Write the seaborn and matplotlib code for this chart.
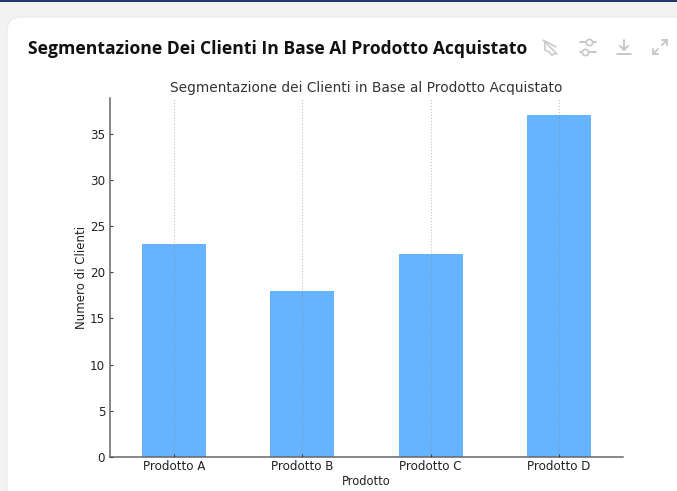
import matplotlib
matplotlib.use("Agg")
import matplotlib.pyplot as plt
import seaborn as sns
import pandas as pd
from matplotlib.patches import FancyBboxPatch, Rectangle
from matplotlib.lines import Line2D

categories = ["Prodotto A", "Prodotto B", "Prodotto C", "Prodotto D"]
customers = [23, 18, 22, 37]
y_ticks = [0, 5, 10, 15, 20, 25, 30, 35]
header = "Segmentazione Dei Clienti In Base Al Prodotto Acquistato"
title = "Segmentazione dei Clienti in Base al Prodotto Acquistato"
xlabel = "Prodotto"
ylabel = "Numero di Clienti"

W, H = 677, 491
sns.set_theme(style="white")
plt.rcParams["font.family"] = ["DejaVu Sans"]
fig = plt.figure(figsize=(W / 100, H / 100), dpi=100, facecolor="#f2f2f2")

def px(x, y):
    return x / W, 1 - y / H

# page chrome
fig.add_artist(Rectangle((0, 1 - 2 / H), 1, 2 / H, transform=fig.transFigure, color="#1f3a68", lw=0, zorder=-5))
fig.add_artist(FancyBboxPatch((7, -30), 720, H + 30 - 17, boxstyle="round,pad=0,rounding_size=14",
                              transform=None, fc="white", ec="#e8e8e8", lw=0.8, zorder=-5))
fig.text(*px(28, 49), header, family="Open Sans", fontweight="bold", fontsize=12.65,
         color="#111111", va="center", ha="left")

def ln(x0, y0, x1, y1, w=1.4):
    fig.add_artist(Line2D([x0 / W, x1 / W], [1 - y0 / H, 1 - y1 / H], transform=fig.transFigure,
                          color="#c8c8c8", lw=w))
# unpin icon
for seg in [(543, 40, 557, 54), (545, 41, 545, 50), (545, 41, 556, 47), (545, 50, 549, 52),
            (549, 52, 552, 55), (552, 55, 556, 53)]:
    ln(*seg, w=1.1)
# sliders icon
ln(580, 42, 596, 42); ln(580, 52, 596, 52)
for cx, cy in [(589, 42), (585, 52)]:
    fig.add_artist(Line2D([cx / W], [1 - cy / H], marker="o", ms=4.5, mfc="white", mec="#c8c8c8",
                          mew=1.2, transform=fig.transFigure))
# download icon
ln(624, 40, 624, 50); ln(620, 46, 624, 50); ln(628, 46, 624, 50); ln(617, 54, 631, 54)
# expand icon
ln(653, 54, 658, 49); ln(653, 54, 653, 49); ln(653, 54, 658, 54)
ln(662, 45, 667, 40); ln(667, 40, 662, 40); ln(667, 40, 667, 45)

ax = fig.add_axes([110 / W, 1 - 457 / H, (623 - 110) / W, (457 - 98) / H], facecolor="white")
df = pd.DataFrame({"Prodotto": categories, "Clienti": customers})
sns.barplot(data=df, x="Prodotto", y="Clienti", color="#66b3ff", saturation=1, width=0.5, ax=ax,
            zorder=2, linewidth=0)
ax.set_xlim(-0.5, 3.5)
ax.set_ylim(0, max(customers) * 1.05)
ax.set_yticks(y_ticks)
ax.xaxis.grid(True, linestyle=":", color="#888888", alpha=0.5, lw=0.8, zorder=3)
ax.set_axisbelow(False)
ax.yaxis.grid(False)
sns.despine(ax=ax)
for s in ("left", "bottom"):
    ax.spines[s].set_color("#666666")
    ax.spines[s].set_linewidth(1.1)
ax.tick_params(axis="both", bottom=True, left=True, direction="in", length=2.5, width=0.8,
               color="#444444", labelsize=8.6, labelcolor="#222222")
ax.tick_params(axis="x", pad=2)
ax.tick_params(axis="y", pad=3.5)
ax.set_title(title, fontsize=9.95, color="#333333", pad=4)
ax.set_xlabel(xlabel, fontsize=8.3, color="#222222", labelpad=1.5)
ax.set_ylabel(ylabel, fontsize=8.5, color="#222222", labelpad=1.5)
fig.savefig("out.png", dpi=100, facecolor=fig.get_facecolor())
